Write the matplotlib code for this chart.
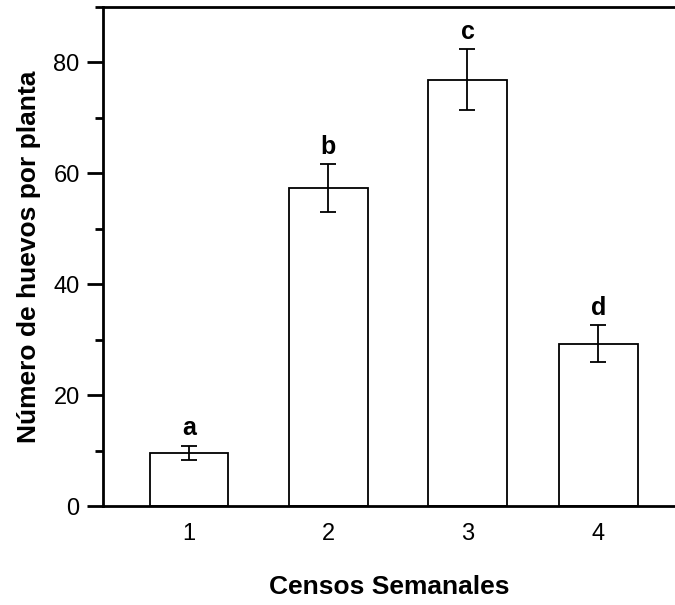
import matplotlib
matplotlib.use('Agg')
import matplotlib.pyplot as plt
from matplotlib.ticker import MultipleLocator

plt.rcParams['font.family'] = ['Liberation Sans', 'DejaVu Sans']

# datos
censos = ['1', '2', '3', '4']
posiciones = [1, 2, 3, 3.94]
huevos = [9.6, 57.4, 76.9, 29.3]
error = [1.3, 4.3, 5.5, 3.3]
letras = ['a', 'b', 'c', 'd']

fig = plt.figure(figsize=(6.75, 6.05), dpi=100)
ax = fig.add_axes([0.152, 0.1636, 0.848, 0.8248])

ax.bar(posiciones, huevos, width=0.564, color='white', edgecolor='black',
       linewidth=1.3, zorder=2)
ax.errorbar(posiciones, huevos, yerr=error, fmt='none', ecolor='black',
            elinewidth=1.3, capsize=6, capthick=1.3, zorder=3)

for x, h, e, l in zip(posiciones, huevos, error, letras):
    ax.annotate(l, (x, h + e), xytext=(0, 12.5), textcoords='offset points',
                ha='center', va='center', fontsize=18, fontweight='bold')

ax.set_xlim(0.378, 4.491)
ax.set_ylim(0, 90)
ax.set_xticks(posiciones)
ax.set_xticklabels(censos)
ax.yaxis.set_major_locator(MultipleLocator(20))
ax.yaxis.set_minor_locator(MultipleLocator(10))

ax.spines['right'].set_visible(False)
for s in ['left', 'bottom', 'top']:
    ax.spines[s].set_linewidth(2)

ax.tick_params(axis='x', length=0, pad=12, labelsize=17)
ax.tick_params(axis='y', which='major', length=11.5, width=2, pad=5, labelsize=17)
ax.tick_params(axis='y', which='minor', length=5.8, width=2)

ax.set_xlabel('Censos Semanales', fontsize=19, fontweight='bold', labelpad=22)
ax.set_ylabel('Número de huevos por planta', fontsize=19, fontweight='bold', labelpad=9)

fig.savefig('out.png', dpi=100)
